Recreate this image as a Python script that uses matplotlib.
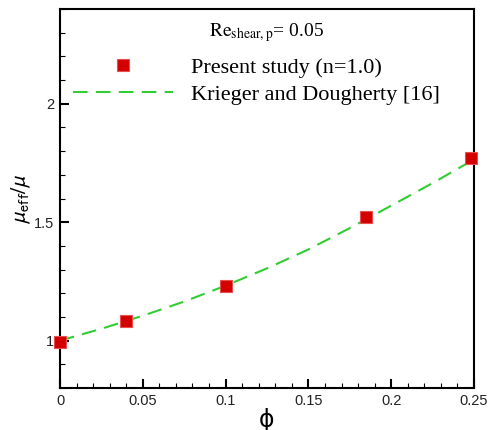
import matplotlib
matplotlib.use('Agg')
import matplotlib.pyplot as plt
from matplotlib.ticker import MultipleLocator

# simulation points
phi_sim = [0.0, 0.04, 0.10, 0.185, 0.248]
mu_sim = [0.995, 1.083, 1.232, 1.522, 1.769]

# Krieger and Dougherty curve
phi_kd = [0.0, 0.025, 0.05, 0.075, 0.10, 0.125, 0.15, 0.175, 0.20, 0.225, 0.25]
mu_kd = [1.0, 1.05, 1.105, 1.165, 1.232, 1.305, 1.385, 1.475, 1.57, 1.665, 1.765]

fig = plt.figure(figsize=(4.89, 4.30), dpi=100)
ax = fig.add_axes([0.1227, 0.0977, 0.8466, 0.8813])

ax.plot(phi_kd, mu_kd, color='#33cc33', lw=1.5, dashes=(7, 4),
        label='Krieger and Dougherty [16]')
ax.plot(phi_sim, mu_sim, ls='none', marker='s', ms=8.5, color='#d40000',
        mec='#e85050', mew=0.8, label='Present study (n=1.0)', clip_on=False, zorder=5)

ax.set_xlim(0, 0.25)
ax.set_ylim(0.8, 2.4)
ax.xaxis.set_minor_locator(MultipleLocator(0.01))
ax.yaxis.set_minor_locator(MultipleLocator(0.1))
ax.set_xticks([0, 0.05, 0.1, 0.15, 0.2, 0.25])
ax.set_xticklabels(['0', '0.05', '0.1', '0.15', '0.2', '0.25'])
ax.set_yticks([1, 1.5, 2])
ax.set_yticklabels(['1', '1.5', '2'])
ax.tick_params(which='major', direction='in', length=6.5, width=1.5,
               labelsize=10.5, pad=4)
ax.tick_params(which='minor', direction='in', length=3.5, width=0.8)
for lab in ax.get_xticklabels() + ax.get_yticklabels():
    lab.set_family('Liberation Sans')
    lab.set_color('#222222')
for s in ax.spines.values():
    s.set_linewidth(1.5)

ax.set_xlabel('ϕ', fontsize=17, family='DejaVu Sans', labelpad=0)
ax.set_ylabel(r'$\mu_{\mathrm{eff}}/\mu$', fontsize=16, math_fontfamily='stixsans', labelpad=1)

ax.text(0.5, 0.937, r'$\mathrm{Re}_{\mathrm{shear,p}}$= 0.05', transform=ax.transAxes,
        ha='center', va='center', fontsize=14, family='Liberation Serif',
        math_fontfamily='stix')

handles, labels = ax.get_legend_handles_labels()
leg = ax.legend(handles[::-1], labels[::-1], loc='upper left', bbox_to_anchor=(0.01, 0.895),
                frameon=False, handlelength=4.5, handletextpad=0.8, labelspacing=0.28,
                prop={'family': 'Liberation Serif', 'size': 16}, borderaxespad=0)

fig.savefig('out.png', dpi=100)
